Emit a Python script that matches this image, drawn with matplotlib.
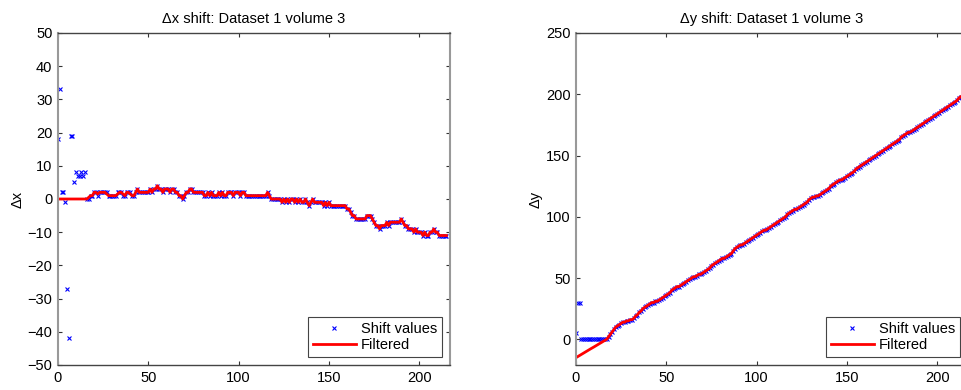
import numpy as np
import matplotlib.pyplot as plt

plt.rcParams['font.family'] = ['Liberation Sans', 'DejaVu Sans']
plt.rcParams['font.size'] = 10

# dx shift values (raw) and filtered, one value per frame index
dx_shift = [18, 33, 2, 2, -1, -27, -42, 19, 19, 5,
            8, 7, 7, 8, 7, 8, 0, 0, 1, 1,
            2, 2, 1, 2, 2, 2, 2, 2, 1, 1,
            1, 1, 1, 2, 2, 2, 1, 1, 2, 2,
            2, 1, 1, 2, 3, 2, 2, 2, 2, 2,
            2, 3, 2, 3, 3, 4, 3, 3, 2, 3,
            3, 3, 2, 3, 3, 2, 2, 1, 1, 0,
            1, 2, 2, 3, 3, 2, 2, 2, 2, 2,
            2, 1, 1, 2, 1, 2, 1, 1, 1, 2,
            1, 2, 1, 1, 2, 2, 2, 1, 2, 2,
            2, 1, 2, 2, 1, 1, 1, 1, 1, 1,
            1, 1, 1, 1, 1, 1, 2, 1, 0, 0,
            0, 0, 0, 0, -1, 0, -1, 0, -1, 0,
            0, -1, 0, -1, 0, -1, -1, 0, -1, -2,
            -1, 0, -1, -1, -1, -1, -1, -2, -1, -2,
            -1, -2, -2, -2, -2, -2, -2, -2, -2, -2,
            -3, -3, -4, -5, -5, -6, -6, -6, -6, -6,
            -6, -5, -5, -5, -6, -7, -8, -8, -9, -8,
            -8, -8, -7, -8, -7, -7, -7, -7, -7, -7,
            -6, -7, -8, -8, -9, -9, -9, -10, -9, -10,
            -10, -10, -11, -10, -11, -11, -10, -10, -9, -10,
            -10, -11, -11, -11, -11, -11]

dx_filt = [0, 0, 0, 0, 0, 0, 0, 0, 0, 0,
           0, 0, 0, 0, 0, 0, 0, 0.5, 1, 1,
           2, 2, 1.5, 2, 2, 2, 2, 1.5, 1, 1,
           1, 1, 1, 1.5, 2, 2, 1.5, 1, 2, 2,
           1.5, 1, 1, 2, 3, 2, 2, 2, 2, 2,
           2, 3, 2, 3, 3, 4, 3, 3, 2, 3,
           3, 3, 2, 3, 3, 2, 2, 1, 1, 0,
           1, 2, 2, 3, 3, 2, 2, 2, 2, 2,
           2, 1, 1, 2, 1, 2, 1, 1, 1, 2,
           1, 2, 1, 1, 2, 2, 2, 1, 2, 2,
           2, 1, 2, 2, 1, 1, 1, 1, 1, 1,
           1, 1, 1, 1, 1, 1, 2, 1, 0, 0,
           0, 0, 0, 0, -1, 0, -1, 0, -1, 0,
           0, -1, 0, -1, 0, -1, -1, 0, -1, -2,
           -1, 0, -1, -1, -1, -1, -1, -2, -1, -2,
           -1, -2, -2, -2, -2, -2, -2, -2, -2, -2,
           -3, -3, -4, -5, -5, -6, -6, -6, -6, -6,
           -6, -5, -5, -5, -6, -7, -8, -8, -9, -8,
           -8, -8, -7, -8, -7, -7, -7, -7, -7, -7,
           -6, -7, -8, -8, -9, -9, -9, -10, -9, -10,
           -10, -10, -11, -10, -11, -11, -10, -10, -9, -10,
           -10, -11, -11, -11, -11, -11]

# dy shift values (raw) and filtered
dy_shift = [5, 30, 30, 0, 0, 0, 0, 0, 0, 0,
            0, 0, 0, 0, 0, 0, 0, 0, 2, 4,
            6, 8, 10, 11, 12, 13, 14, 14, 15, 15,
            16, 16, 17, 19, 20, 22, 23, 25, 26, 27,
            28, 29, 30, 30, 31, 31, 32, 33, 34, 35,
            36, 37, 38, 40, 41, 42, 43, 43, 44, 45,
            46, 47, 48, 49, 50, 51, 51, 52, 53, 53,
            54, 55, 56, 57, 58, 60, 61, 62, 63, 64,
            65, 66, 66, 67, 68, 69, 70, 72, 74, 75,
            76, 77, 77, 78, 79, 80, 81, 82, 83, 84,
            85, 86, 87, 88, 89, 89, 90, 91, 92, 93,
            94, 95, 96, 97, 98, 99, 100, 102, 103, 104,
            105, 106, 106, 107, 108, 109, 110, 111, 112, 114,
            115, 116, 116, 117, 117, 118, 119, 120, 121, 122,
            123, 125, 126, 127, 128, 129, 130, 130, 131, 132,
            133, 134, 135, 136, 137, 139, 140, 141, 142, 143,
            144, 145, 146, 147, 148, 149, 150, 151, 152, 153,
            154, 155, 156, 157, 158, 159, 160, 161, 162, 163,
            165, 166, 167, 168, 169, 169, 170, 171, 172, 173,
            174, 175, 176, 177, 178, 179, 180, 181, 182, 183,
            184, 185, 186, 187, 188, 189, 190, 191, 192, 193,
            194, 195, 197, 198, 199, 200]

dy_filt_start = [-15, -14.1, -13.2, -12.4, -11.5, -10.6, -9.7, -8.8, -7.9,
                 -7.1, -6.2, -5.3, -4.4, -3.5, -2.6, -1.8, -0.9]
dy_filt = dy_filt_start + dy_shift[len(dy_filt_start):]

frames = np.arange(len(dx_shift))

fig = plt.figure(figsize=(9.62, 3.90), dpi=100)
ax1 = fig.add_axes([58/962, 25/390, 392/962, 332/390])
ax2 = fig.add_axes([576/962, 25/390, 392/962, 332/390])


def style(ax):
    ax.tick_params(direction='in', top=True, right=True, length=3,
                   width=0.8, colors='#333333', labelcolor='black',
                   labelsize=10.5, pad=4)
    for s in ['top', 'bottom']:
        ax.spines[s].set_color('#444444')
        ax.spines[s].set_linewidth(1)
    for s in ['left', 'right']:
        ax.spines[s].set_color('#999999')
        ax.spines[s].set_linewidth(1.5)


for ax, shift, filt, lab, ylim, yt in [
        (ax1, dx_shift, dx_filt, 'x', (-50, 50), np.arange(-50, 51, 10)),
        (ax2, dy_shift, dy_filt, 'y', (-21, 250), np.arange(0, 251, 50))]:
    ax.plot(frames, shift, 'x', color='#0000ff', ms=3.5, mew=0.8,
            label='Shift values')
    ax.plot(frames, filt, '-', color='#ff0000', lw=2, label='Filtered')
    ax.set_xlim(0, 217)
    ax.set_ylim(*ylim)
    ax.set_yticks(yt)
    ax.set_xticks([0, 50, 100, 150, 200])
    ax.set_title('\u0394' + lab + ' shift: Dataset 1 volume 3', fontsize=10.5, pad=7)
    ax.set_ylabel('\u0394' + lab, fontsize=10.5, labelpad=2)
    leg = ax.legend(loc='lower right', fontsize=10.5, fancybox=False,
                    framealpha=1, edgecolor='#444444', handlelength=2.9,
                    borderpad=0.35, labelspacing=0.15, handletextpad=0.35,
                    borderaxespad=0.55)
    leg.get_frame().set_linewidth(0.8)
    style(ax)

plt.savefig('out.png', dpi=100)
